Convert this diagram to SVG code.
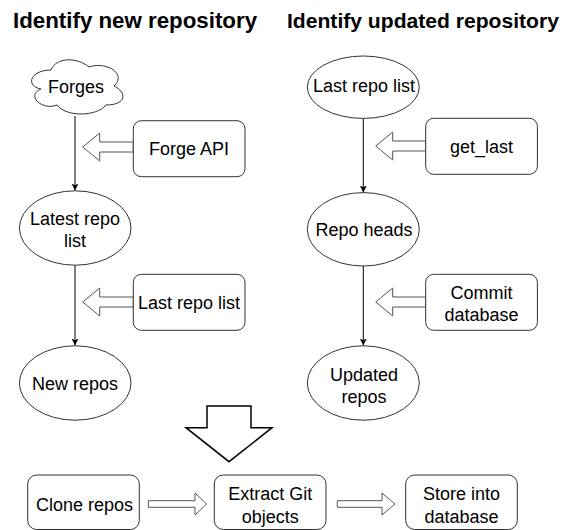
<svg xmlns="http://www.w3.org/2000/svg" width="565" height="530" viewBox="0 0 565 530">
<style>
  .t { font-family: "Liberation Sans", Arial, Helvetica, sans-serif; font-size: 18px; fill: #000; text-anchor: middle; }
  .title { font-family: "Liberation Sans", Arial, Helvetica, sans-serif; font-weight: bold; fill: #000; }
  .shape { fill: #fff; stroke: #333; stroke-width: 1; }
  .hollow { fill: #fff; stroke: #555; stroke-width: 1; }
  .conn { fill: none; stroke: #000; stroke-width: 1; }
</style>
<defs>
  <marker id="ah" viewBox="0 0 10 10" refX="10" refY="5" markerWidth="7" markerHeight="7" markerUnits="userSpaceOnUse" orient="auto">
    <path d="M0,0 L10,5 L0,10 L2.5,5 Z" fill="#000"/>
  </marker>
</defs>
<rect width="565" height="530" fill="#fff"/>

<g id="titles">
  <text class="title" x="13" y="28" font-size="22.3">Identify new repository</text>
  <text class="title" x="287" y="28" font-size="21.1">Identify updated repository</text>
</g>

<g id="connectors">
  <line class="conn" x1="75" y1="116" x2="75" y2="190.5" marker-end="url(#ah)"/>
  <line class="conn" x1="75" y1="265" x2="75" y2="345.5" marker-end="url(#ah)"/>
  <line class="conn" x1="363.3" y1="118.3" x2="363.3" y2="192.5" marker-end="url(#ah)"/>
  <line class="conn" x1="363.3" y1="266" x2="363.3" y2="345.5" marker-end="url(#ah)"/>
  <polygon class="hollow" points="82.7,147 99.7,133 99.7,142 133.3,142 133.3,152 99.7,152 99.7,161"/>
  <polygon class="hollow" points="82.7,302 99.7,288 99.7,297 133.3,297 133.3,307 99.7,307 99.7,316"/>
  <polygon class="hollow" points="375.7,146 392.7,132 392.7,141 425.7,141 425.7,151 392.7,151 392.7,160"/>
  <polygon class="hollow" points="375.7,302 392.7,288 392.7,297 425.7,297 425.7,307 392.7,307 392.7,316"/>
  <polygon points="207,406 251,406 251,427.7 272,427.7 229,461.7 186,427.7 207,427.7" fill="#fff" stroke="#000" stroke-width="1.5"/>
  <polygon class="hollow" points="148.3,500.7 195,500.7 195,493 206.5,504 195,515 195,507.3 148.3,507.3"/>
  <polygon class="hollow" points="337.3,500.7 382,500.7 382,493 395,504 382,515 382,507.3 337.3,507.3"/>
</g>

<g id="forges">
  <path class="shape" d="M51,70 C30,70 25,86 41,89 C25,96 43,111 57,105 C66,117 96,117 106,105 C127,105 127,92 114,86 C127,74 107,61 89,67 C77,57 56,57 51,70 Z"/>
  <text class="t" x="76" y="92.5">Forges</text>
</g>

<g id="forge-api">
  <rect class="shape" x="133.3" y="120.7" width="111.7" height="56" rx="8"/>
  <text class="t" x="189" y="155">Forge API</text>
</g>

<g id="latest-repo-list">
  <ellipse class="shape" cx="75.2" cy="228" rx="55.8" ry="37.2"/>
  <text class="t" x="75" y="225">Latest repo</text>
  <text class="t" x="75" y="247">list</text>
</g>

<g id="last-repo-list-box">
  <rect class="shape" x="133.3" y="274.3" width="111.7" height="56" rx="8"/>
  <text class="t" x="189" y="309">Last repo list</text>
</g>

<g id="new-repos">
  <ellipse class="shape" cx="75.2" cy="383" rx="55.8" ry="37.2"/>
  <text class="t" x="75" y="390">New repos</text>
</g>

<g id="last-repo-list-ellipse">
  <ellipse class="shape" cx="363.3" cy="87.2" rx="56" ry="31.2"/>
  <text class="t" x="364" y="92">Last repo list</text>
</g>

<g id="get-last">
  <rect class="shape" x="425.7" y="118.3" width="111.7" height="56" rx="8"/>
  <text class="t" x="481.5" y="153">get_last</text>
</g>

<g id="repo-heads">
  <ellipse class="shape" cx="363.3" cy="229.3" rx="56" ry="36.7"/>
  <text class="t" x="364" y="236">Repo heads</text>
</g>

<g id="commit-database">
  <rect class="shape" x="425.7" y="274.3" width="111.7" height="56" rx="8"/>
  <text class="t" x="481.5" y="299">Commit</text>
  <text class="t" x="481.5" y="321">database</text>
</g>

<g id="updated-repos">
  <ellipse class="shape" cx="363.3" cy="383" rx="56" ry="37.2"/>
  <text class="t" x="364" y="381">Updated</text>
  <text class="t" x="364" y="403">repos</text>
</g>

<g id="clone-repos">
  <rect class="shape" x="27.7" y="475" width="111.6" height="54.5" rx="9"/>
  <text class="t" x="84.5" y="511">Clone repos</text>
</g>

<g id="extract-git-objects">
  <rect class="shape" x="214.3" y="475" width="111.7" height="54.5" rx="9"/>
  <text class="t" x="270.2" y="500">Extract Git</text>
  <text class="t" x="270.2" y="522.5">objects</text>
</g>

<g id="store-into-database">
  <rect class="shape" x="405.7" y="475" width="111.6" height="54.5" rx="9"/>
  <text class="t" x="461.5" y="500">Store into</text>
  <text class="t" x="461.5" y="522.5">database</text>
</g>
</svg>
